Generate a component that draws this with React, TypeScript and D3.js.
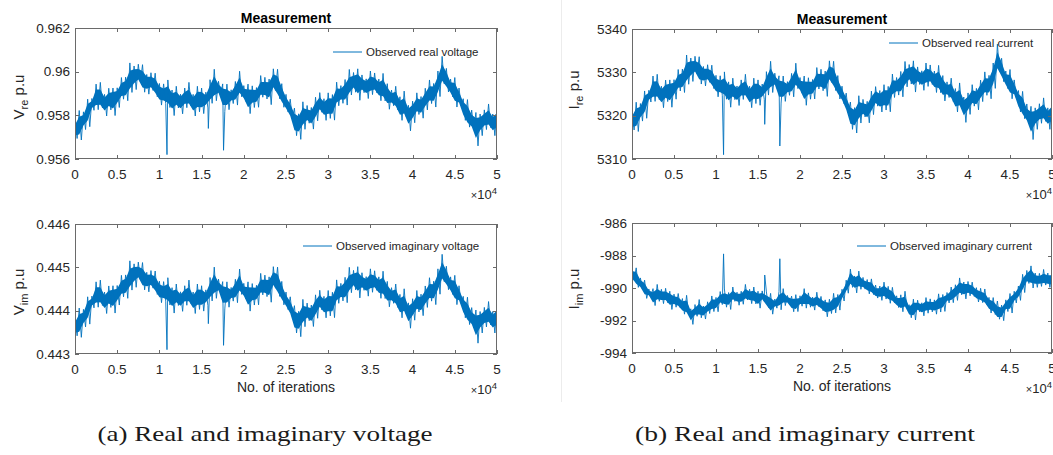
import React from "react";
import * as d3 from "d3";

// ---------- shared axis data ----------
const X_MAX = 50000;
const SAMPLE_STEP = 500; // iterations between stored samples
const xTickValues = [0, 5000, 10000, 15000, 20000, 25000, 30000, 35000, 40000, 45000, 50000];
const xTickLabels = ["0", "0.5", "1", "1.5", "2", "2.5", "3", "3.5", "4", "4.5", "5"];

// ---------- (a) real voltage ----------
const vReal = [
  0.9573, 0.9575, 0.9578, 0.9582, 0.9585, 0.9588, 0.9587, 0.9586, 0.9587, 0.9588,
  0.9589, 0.9591, 0.9593, 0.9595, 0.9599, 0.9598, 0.9596, 0.9596, 0.9595, 0.9593,
  0.9591, 0.9589, 0.9589, 0.9588, 0.9587, 0.9587, 0.9588, 0.9587, 0.9586, 0.9587,
  0.9588, 0.9587, 0.959, 0.9593, 0.9592, 0.9589, 0.9588, 0.9589, 0.9591, 0.9593,
  0.959, 0.9588, 0.9589, 0.959, 0.9591, 0.9592, 0.9593, 0.9595, 0.9593, 0.959,
  0.9586, 0.9582, 0.9577, 0.9578, 0.9579, 0.958, 0.958, 0.9582, 0.9585, 0.9584,
  0.9584, 0.9585, 0.9588, 0.959, 0.9591, 0.9592, 0.9596, 0.9595, 0.9594, 0.9594,
  0.9594, 0.9594, 0.9593, 0.9592, 0.959, 0.9588, 0.9587, 0.9584, 0.9583, 0.9581,
  0.9582, 0.9584, 0.9585, 0.9587, 0.9589, 0.9591, 0.9594, 0.9598, 0.9597, 0.9593,
  0.9591, 0.9588, 0.9584, 0.958, 0.9577, 0.9575, 0.9577, 0.9578, 0.9578, 0.9577,
  0.9578,
];
const vRealUpper = [
  0.00045, 0.00072, 0.00036, 0.00054, 0.00027, 0.00063, 0.00081, 0.00036, 0.00054, 0.00045,
  0.00036, 0.00063, 0.00045, 0.0009, 0.00036, 0.00054, 0.00072, 0.00027, 0.00045, 0.00063,
  0.00036, 0.00054, 0.00072, 0.00036, 0.00063, 0.00027, 0.00045, 0.00081, 0.00036, 0.00063,
  0.00045, 0.00036, 0.00063, 0.00081, 0.00036, 0.00054, 0.00063, 0.00027, 0.00045, 0.00072,
  0.00036, 0.00063, 0.00045, 0.00027, 0.00072, 0.00054, 0.00036, 0.00063, 0.00081, 0.00045,
  0.00036, 0.00054, 0.00063, 0.00027, 0.00072, 0.00045, 0.00036, 0.00063, 0.00054, 0.00036,
  0.00063, 0.00045, 0.00072, 0.00036, 0.00054, 0.0009, 0.00036, 0.00063, 0.00045, 0.00027,
  0.00063, 0.00054, 0.00036, 0.00072, 0.00045, 0.00036, 0.00063, 0.00045, 0.00081, 0.00036,
  0.00045, 0.00063, 0.00036, 0.00054, 0.00072, 0.00036, 0.00063, 0.0009, 0.00045, 0.00036,
  0.00063, 0.00045, 0.00036, 0.00072, 0.00054, 0.00063, 0.00036, 0.00045, 0.00072, 0.00036,
  0.00054,
];
const vRealLower = [
  0.00036, 0.00063, 0.00045, 0.00072, 0.00027, 0.00054, 0.00036, 0.00063, 0.00045, 0.00081,
  0.00054, 0.00036, 0.00063, 0.00045, 0.00072, 0.00027, 0.00054, 0.00063, 0.00036, 0.00045,
  0.00063, 0.00036, 0.00054, 0.00081, 0.00036, 0.00063, 0.00045, 0.00027, 0.00063, 0.00054,
  0.00072, 0.00036, 0.00045, 0.00063, 0.00027, 0.00072, 0.00054, 0.00036, 0.00063, 0.00045,
  0.00036, 0.00072, 0.00054, 0.00063, 0.00027, 0.00045, 0.00081, 0.00036, 0.00054, 0.00063,
  0.00045, 0.00036, 0.00063, 0.0009, 0.00054, 0.00036, 0.00063, 0.00045, 0.00036, 0.00063,
  0.00054, 0.00072, 0.00036, 0.00045, 0.00063, 0.00027, 0.00054, 0.00081, 0.00036, 0.00063,
  0.00045, 0.00036, 0.00063, 0.00054, 0.00072, 0.00036, 0.00045, 0.00063, 0.00036, 0.00081,
  0.00054, 0.00036, 0.00063, 0.00045, 0.00036, 0.00072, 0.00054, 0.00036, 0.00063, 0.00045,
  0.00072, 0.00036, 0.00063, 0.00054, 0.00036, 0.0009, 0.00063, 0.00045, 0.00036, 0.00063,
  0.00054,
];
const vRealSpikes = [
  { at: 10900, value: 0.9562 },
  { at: 15800, value: 0.9574 },
  { at: 17600, value: 0.9564 },
];
const vRealTicks = [0.956, 0.958, 0.96, 0.962];
const vRealTickLabels = ["0.956", "0.958", "0.96", "0.962"];

// ---------- (a) imaginary voltage ----------
const vImag = [
  0.4436, 0.4437, 0.44385, 0.44405, 0.4442, 0.44435, 0.4443, 0.44425, 0.4443, 0.44435,
  0.4444, 0.4445, 0.4446, 0.4447, 0.4449, 0.44485, 0.44475, 0.44475, 0.4447, 0.4446,
  0.4445, 0.4444, 0.4444, 0.44435, 0.4443, 0.4443, 0.44435, 0.4443, 0.44425, 0.4443,
  0.44435, 0.4443, 0.44445, 0.4446, 0.44455, 0.4444, 0.44435, 0.4444, 0.4445, 0.4446,
  0.44445, 0.44435, 0.4444, 0.44445, 0.4445, 0.44455, 0.4446, 0.4447, 0.4446, 0.44445,
  0.44425, 0.44405, 0.4438, 0.44385, 0.4439, 0.44395, 0.44395, 0.44405, 0.4442, 0.44415,
  0.44415, 0.4442, 0.44435, 0.44445, 0.4445, 0.44455, 0.44475, 0.4447, 0.44465, 0.44465,
  0.44465, 0.44465, 0.4446, 0.44455, 0.44445, 0.44435, 0.4443, 0.44415, 0.4441, 0.444,
  0.44405, 0.44415, 0.4442, 0.4443, 0.4444, 0.4445, 0.44465, 0.44485, 0.4448, 0.4446,
  0.4445, 0.44435, 0.44415, 0.44395, 0.4438, 0.4437, 0.4438, 0.44385, 0.44385, 0.4438,
  0.44385,
];
const vImagUpper = [
  0.000225, 0.00036, 0.00018, 0.00027, 0.000135, 0.000315, 0.000405, 0.00018, 0.00027, 0.000225,
  0.00018, 0.000315, 0.000225, 0.00045, 0.00018, 0.00027, 0.00036, 0.000135, 0.000225, 0.000315,
  0.00018, 0.00027, 0.00036, 0.00018, 0.000315, 0.000135, 0.000225, 0.000405, 0.00018, 0.000315,
  0.000225, 0.00018, 0.000315, 0.000405, 0.00018, 0.00027, 0.000315, 0.000135, 0.000225, 0.00036,
  0.00018, 0.000315, 0.000225, 0.000135, 0.00036, 0.00027, 0.00018, 0.000315, 0.000405, 0.000225,
  0.00018, 0.00027, 0.000315, 0.000135, 0.00036, 0.000225, 0.00018, 0.000315, 0.00027, 0.00018,
  0.000315, 0.000225, 0.00036, 0.00018, 0.00027, 0.00045, 0.00018, 0.000315, 0.000225, 0.000135,
  0.000315, 0.00027, 0.00018, 0.00036, 0.000225, 0.00018, 0.000315, 0.000225, 0.000405, 0.00018,
  0.000225, 0.000315, 0.00018, 0.00027, 0.00036, 0.00018, 0.000315, 0.00045, 0.000225, 0.00018,
  0.000315, 0.000225, 0.00018, 0.00036, 0.00027, 0.000315, 0.00018, 0.000225, 0.00036, 0.00018,
  0.00027,
];
const vImagLower = [
  0.00018, 0.000315, 0.000225, 0.00036, 0.000135, 0.00027, 0.00018, 0.000315, 0.000225, 0.000405,
  0.00027, 0.00018, 0.000315, 0.000225, 0.00036, 0.000135, 0.00027, 0.000315, 0.00018, 0.000225,
  0.000315, 0.00018, 0.00027, 0.000405, 0.00018, 0.000315, 0.000225, 0.000135, 0.000315, 0.00027,
  0.00036, 0.00018, 0.000225, 0.000315, 0.000135, 0.00036, 0.00027, 0.00018, 0.000315, 0.000225,
  0.00018, 0.00036, 0.00027, 0.000315, 0.000135, 0.000225, 0.000405, 0.00018, 0.00027, 0.000315,
  0.000225, 0.00018, 0.000315, 0.00045, 0.00027, 0.00018, 0.000315, 0.000225, 0.00018, 0.000315,
  0.00027, 0.00036, 0.00018, 0.000225, 0.000315, 0.000135, 0.00027, 0.000405, 0.00018, 0.000315,
  0.000225, 0.00018, 0.000315, 0.00027, 0.00036, 0.00018, 0.000225, 0.000315, 0.00018, 0.000405,
  0.00027, 0.00018, 0.000315, 0.000225, 0.00018, 0.00036, 0.00027, 0.00018, 0.000315, 0.000225,
  0.00036, 0.00018, 0.000315, 0.00027, 0.00018, 0.00045, 0.000315, 0.000225, 0.00018, 0.000315,
  0.00027,
];
const vImagSpikes = [
  { at: 10900, value: 0.4431 },
  { at: 15800, value: 0.4437 },
  { at: 17600, value: 0.4432 },
];
const vImagTicks = [0.443, 0.444, 0.445, 0.446];
const vImagTickLabels = ["0.443", "0.444", "0.445", "0.446"];

// ---------- (b) real current ----------
const iReal = [
  5318.5, 5319.5, 5321, 5323, 5324.5, 5326, 5325.5, 5325, 5325.5, 5326,
  5326.5, 5327.5, 5328.5, 5329.5, 5331.5, 5331, 5330, 5330, 5329.5, 5328.5,
  5327.5, 5326.5, 5326.5, 5326, 5325.5, 5325.5, 5326, 5325.5, 5325, 5325.5,
  5326, 5325.5, 5327, 5328.5, 5328, 5326.5, 5326, 5326.5, 5327.5, 5328.5,
  5327, 5326, 5326.5, 5327, 5327.5, 5328, 5328.5, 5329.5, 5328.5, 5327,
  5325, 5322.5, 5320, 5320.5, 5321, 5321.5, 5321.5, 5322.5, 5324, 5324,
  5324, 5324.5, 5326, 5327, 5327.5, 5328, 5330, 5329.5, 5329, 5329,
  5329, 5329, 5328.5, 5328, 5327, 5326, 5325.5, 5324, 5323.5, 5322.5,
  5323, 5324, 5324.5, 5325.5, 5326.5, 5327.5, 5329, 5332, 5331, 5328.5,
  5327.5, 5326, 5324, 5322, 5320, 5319, 5320, 5320.5, 5320.5, 5320,
  5320.5,
];
const iRealUpper = [
  2.25, 3.6, 1.8, 2.7, 1.35, 3.15, 4.05, 1.8, 2.7, 2.25,
  1.8, 3.15, 2.25, 4.5, 1.8, 2.7, 3.6, 1.35, 2.25, 3.15,
  1.8, 2.7, 3.6, 1.8, 3.15, 1.35, 2.25, 4.05, 1.8, 3.15,
  2.25, 1.8, 3.15, 4.05, 1.8, 2.7, 3.15, 1.35, 2.25, 3.6,
  1.8, 3.15, 2.25, 1.35, 3.6, 2.7, 1.8, 3.15, 4.05, 2.25,
  1.8, 2.7, 3.15, 1.35, 3.6, 2.25, 1.8, 3.15, 2.7, 1.8,
  3.15, 2.25, 3.6, 1.8, 2.7, 4.5, 1.8, 3.15, 2.25, 1.35,
  3.15, 2.7, 1.8, 3.6, 2.25, 1.8, 3.15, 2.25, 4.05, 1.8,
  2.25, 3.15, 1.8, 2.7, 3.6, 1.8, 3.15, 4.5, 2.25, 1.8,
  3.15, 2.25, 1.8, 3.6, 2.7, 3.15, 1.8, 2.25, 3.6, 1.8,
  2.7,
];
const iRealLower = [
  1.8, 3.15, 2.25, 3.6, 1.35, 2.7, 1.8, 3.15, 2.25, 4.05,
  2.7, 1.8, 3.15, 2.25, 3.6, 1.35, 2.7, 3.15, 1.8, 2.25,
  3.15, 1.8, 2.7, 4.05, 1.8, 3.15, 2.25, 1.35, 3.15, 2.7,
  3.6, 1.8, 2.25, 3.15, 1.35, 3.6, 2.7, 1.8, 3.15, 2.25,
  1.8, 3.6, 2.7, 3.15, 1.35, 2.25, 4.05, 1.8, 2.7, 3.15,
  2.25, 1.8, 3.15, 4.5, 2.7, 1.8, 3.15, 2.25, 1.8, 3.15,
  2.7, 3.6, 1.8, 2.25, 3.15, 1.35, 2.7, 4.05, 1.8, 3.15,
  2.25, 1.8, 3.15, 2.7, 3.6, 1.8, 2.25, 3.15, 1.8, 4.05,
  2.7, 1.8, 3.15, 2.25, 1.8, 3.6, 2.7, 1.8, 3.15, 2.25,
  3.6, 1.8, 3.15, 2.7, 1.8, 4.5, 3.15, 2.25, 1.8, 3.15,
  2.7,
];
const iRealSpikes = [
  { at: 10900, value: 5311 },
  { at: 15800, value: 5318 },
  { at: 17600, value: 5313 },
];
const iRealTicks = [5310, 5320, 5330, 5340];
const iRealTickLabels = ["5310", "5320", "5330", "5340"];

// ---------- (b) imaginary current ----------
const iImag = [
  -989.2, -989.4, -989.7, -990.0, -990.3, -990.6, -990.5, -990.4, -990.5, -990.6,
  -990.7, -990.9, -991.05, -991.25, -991.6, -991.5, -991.35, -991.35, -991.25, -991.05,
  -990.9, -990.7, -990.7, -990.6, -990.5, -990.5, -990.6, -990.5, -990.4, -990.5,
  -990.6, -990.5, -990.8, -991.05, -991.0, -990.7, -990.6, -990.7, -990.9, -991.05,
  -990.8, -990.6, -990.7, -990.8, -990.9, -991.0, -991.05, -991.25, -991.05, -990.8,
  -990.4, -990.0, -989.4, -989.5, -989.6, -989.75, -989.8, -990.0, -990.3, -990.2,
  -990.2, -990.3, -990.6, -990.8, -990.9, -991.0, -991.35, -991.25, -991.15, -991.15,
  -991.15, -991.15, -991.05, -991.0, -990.8, -990.6, -990.5, -990.2, -990.1, -989.95,
  -990.0, -990.2, -990.3, -990.5, -990.7, -990.9, -991.15, -991.6, -991.45, -991.05,
  -990.9, -990.6, -990.2, -989.8, -989.4, -989.2, -989.4, -989.5, -989.5, -989.4,
  -989.5,
];
const iImagUpper = [
  0.4, 0.64, 0.32, 0.48, 0.24, 0.56, 0.72, 0.32, 0.48, 0.4,
  0.32, 0.56, 0.4, 0.8, 0.32, 0.48, 0.64, 0.24, 0.4, 0.56,
  0.32, 0.48, 0.64, 0.32, 0.56, 0.24, 0.4, 0.72, 0.32, 0.56,
  0.4, 0.32, 0.56, 0.72, 0.32, 0.48, 0.56, 0.24, 0.4, 0.64,
  0.32, 0.56, 0.4, 0.24, 0.64, 0.48, 0.32, 0.56, 0.72, 0.4,
  0.32, 0.48, 0.56, 0.24, 0.64, 0.4, 0.32, 0.56, 0.48, 0.32,
  0.56, 0.4, 0.64, 0.32, 0.48, 0.8, 0.32, 0.56, 0.4, 0.24,
  0.56, 0.48, 0.32, 0.64, 0.4, 0.32, 0.56, 0.4, 0.72, 0.32,
  0.4, 0.56, 0.32, 0.48, 0.64, 0.32, 0.56, 0.8, 0.4, 0.32,
  0.56, 0.4, 0.32, 0.64, 0.48, 0.56, 0.32, 0.4, 0.64, 0.32,
  0.48,
];
const iImagLower = [
  0.32, 0.56, 0.4, 0.64, 0.24, 0.48, 0.32, 0.56, 0.4, 0.72,
  0.48, 0.32, 0.56, 0.4, 0.64, 0.24, 0.48, 0.56, 0.32, 0.4,
  0.56, 0.32, 0.48, 0.72, 0.32, 0.56, 0.4, 0.24, 0.56, 0.48,
  0.64, 0.32, 0.4, 0.56, 0.24, 0.64, 0.48, 0.32, 0.56, 0.4,
  0.32, 0.64, 0.48, 0.56, 0.24, 0.4, 0.72, 0.32, 0.48, 0.56,
  0.4, 0.32, 0.56, 0.8, 0.48, 0.32, 0.56, 0.4, 0.32, 0.56,
  0.48, 0.64, 0.32, 0.4, 0.56, 0.24, 0.48, 0.72, 0.32, 0.56,
  0.4, 0.32, 0.56, 0.48, 0.64, 0.32, 0.4, 0.56, 0.32, 0.72,
  0.48, 0.32, 0.56, 0.4, 0.32, 0.64, 0.48, 0.32, 0.56, 0.4,
  0.64, 0.32, 0.56, 0.48, 0.32, 0.8, 0.56, 0.4, 0.32, 0.56,
  0.48,
];
const iImagSpikes = [
  { at: 10900, value: -987.9 },
  { at: 15800, value: -989.2 },
  { at: 17600, value: -988.2 },
];
const iImagTicks = [-994, -992, -990, -988, -986];
const iImagTickLabels = ["-994", "-992", "-990", "-988", "-986"];

// ---------- styling / layout ----------
const LINE = "#0072BD";
const AXIS = "#6a6a6a";
const TEXT = "#262626";
const SANS = "'Liberation Sans', Arial, Helvetica, sans-serif";
const SERIF = "'Liberation Serif', 'DejaVu Serif', serif";

type Spike = { at: number; value: number };
type PanelProps = {
  id: string;
  left: number; right: number; top: number; bottom: number;
  values: number[]; upper: number[]; lower: number[]; spikes: Spike[];
  yTicks: number[]; yTickLabels: string[];
  title?: boolean; legend: string; legendX: number; legendY: number;
  yMain: string; ySub: string; yLabelX: number; yLabelY: number;
  xLabel?: boolean;
};

function Panel(p: PanelProps) {
  const x = d3.scaleLinear().domain([0, X_MAX]).range([p.left, p.right]);
  const yDom = d3.extent(p.yTicks) as [number, number];
  const y = d3.scaleLinear().domain(yDom).range([p.bottom, p.top]);

  // noisy band: zig-zag through the upper / lower envelope
  const pts: { it: number; v: number }[] = [];
  p.values.forEach((c, i) => {
    pts.push({ it: i * SAMPLE_STEP, v: c + p.upper[i] });
    pts.push({ it: i * SAMPLE_STEP + SAMPLE_STEP / 2, v: c - p.lower[i] });
  });
  p.spikes.forEach((s) => pts.push({ it: s.at, v: s.value }));
  pts.sort((a, b) => a.it - b.it);

  const line = d3
    .line<{ it: number; v: number }>()
    .x((d) => x(d.it))
    .y((d) => y(d.v));

  // dense core of the band
  const core = d3
    .area<number>()
    .x((_, i) => x(i * SAMPLE_STEP))
    .y0((c, i) => y(c - p.lower[i] * 0.6))
    .y1((c, i) => y(c + p.upper[i] * 0.6));

  const tickLen = 4;
  const clipId = `clip-${p.id}`;
  const cx = (p.left + p.right) / 2;

  return (
    <g>
      <defs>
        <clipPath id={clipId}>
          <rect x={p.left} y={p.top} width={p.right - p.left} height={p.bottom - p.top} />
        </clipPath>
      </defs>
      <g clipPath={`url(#${clipId})`}>
        <path d={core(p.values) || ""} fill={LINE} stroke="none" />
        <path d={line(pts) || ""} fill="none" stroke={LINE} strokeWidth={0.9} />
      </g>
      <rect
        x={p.left + 0.5}
        y={p.top + 0.5}
        width={p.right - p.left - 1}
        height={p.bottom - p.top - 1}
        fill="none"
        stroke={AXIS}
        strokeWidth={1}
      />
      {xTickValues.map((t, i) => {
        const xx = Math.round(x(t)) + 0.5;
        return (
          <g key={`xt${i}`}>
            <line x1={xx} x2={xx} y1={p.bottom} y2={p.bottom - tickLen} stroke={AXIS} />
            <line x1={xx} x2={xx} y1={p.top} y2={p.top + tickLen} stroke={AXIS} />
            <text x={x(t)} y={p.bottom + 20} textAnchor="middle" fontFamily={SANS} fontSize={13.5} fill={TEXT}>
              {xTickLabels[i]}
            </text>
          </g>
        );
      })}
      {p.yTicks.map((t, i) => {
        const yy = Math.round(y(t)) + 0.5;
        return (
          <g key={`yt${i}`}>
            <line x1={p.left} x2={p.left + tickLen} y1={yy} y2={yy} stroke={AXIS} />
            <line x1={p.right} x2={p.right - tickLen} y1={yy} y2={yy} stroke={AXIS} />
            <text x={p.left - 5} y={y(t)} dy="0.35em" textAnchor="end" fontFamily={SANS} fontSize={13.5} fill={TEXT}>
              {p.yTickLabels[i]}
            </text>
          </g>
        );
      })}
      <text x={p.right} y={p.bottom + 40} textAnchor="end" fontFamily={SANS} fill={TEXT}>
        <tspan fontSize={11}>×</tspan>
        <tspan fontSize={13}>10</tspan>
        <tspan fontSize={9.5} dy={-5}>4</tspan>
      </text>
      {p.title && (
        <text x={cx} y={p.top - 5} textAnchor="middle" fontFamily={SANS} fontSize={14} fontWeight="bold" fill="#000">
          Measurement
        </text>
      )}
      {p.xLabel && (
        <text x={cx} y={p.bottom + 38} textAnchor="middle" fontFamily={SANS} fontSize={14} fill={TEXT}>
          No. of iterations
        </text>
      )}
      <text
        transform={`translate(${p.yLabelX},${p.yLabelY}) rotate(-90)`}
        textAnchor="middle"
        fontFamily={SANS}
        fill={TEXT}
        fontSize={15}
      >
        {p.yMain}
        <tspan fontSize={11} dy={4}>{p.ySub}</tspan>
        <tspan dy={-4}> p.u</tspan>
      </text>
      <line x1={p.legendX} x2={p.legendX + 29} y1={p.legendY} y2={p.legendY} stroke={LINE} strokeWidth={1} />
      <text x={p.legendX + 33} y={p.legendY} dy="0.35em" fontFamily={SANS} fontSize={11.5} fill={TEXT}>
        {p.legend}
      </text>
    </g>
  );
}

export default function App() {
  return (
    <svg
      width={1053}
      height={455}
      viewBox="0 0 1053 455"
      style={{ position: "absolute", left: 0, top: 0, background: "#fff" }}
    >
      <rect x={0} y={0} width={1053} height={455} fill="#fff" />
      <line x1={561.5} x2={561.5} y1={0} y2={402} stroke="#ececec" strokeWidth={1} />
      <Panel
        id="vre"
        left={75} right={497} top={28} bottom={159}
        values={vReal} upper={vRealUpper} lower={vRealLower} spikes={vRealSpikes}
        yTicks={vRealTicks} yTickLabels={vRealTickLabels}
        title legend="Observed real voltage" legendX={333} legendY={52}
        yMain="V" ySub="re" yLabelX={24} yLabelY={97}
      />
      <Panel
        id="vim"
        left={75} right={497} top={224} bottom={354}
        values={vImag} upper={vImagUpper} lower={vImagLower} spikes={vImagSpikes}
        yTicks={vImagTicks} yTickLabels={vImagTickLabels}
        legend="Observed imaginary voltage" legendX={303} legendY={246}
        yMain="V" ySub="im" yLabelX={24} yLabelY={292}
        xLabel
      />
      <Panel
        id="ire"
        left={632} right={1052} top={29} bottom={159}
        values={iReal} upper={iRealUpper} lower={iRealLower} spikes={iRealSpikes}
        yTicks={iRealTicks} yTickLabels={iRealTickLabels}
        title legend="Observed real current" legendX={889} legendY={43}
        yMain="I" ySub="re" yLabelX={579} yLabelY={90}
      />
      <Panel
        id="iim"
        left={632} right={1052} top={223} bottom={353}
        values={iImag} upper={iImagUpper} lower={iImagLower} spikes={iImagSpikes}
        yTicks={iImagTicks} yTickLabels={iImagTickLabels}
        legend="Observed imaginary current" legendX={857} legendY={246}
        yMain="I" ySub="im" yLabelX={579} yLabelY={289}
        xLabel
      />
      <text x={265} y={441} textAnchor="middle" fontFamily={SERIF} fontSize={22} fill="#1a1a1a" textLength={335} lengthAdjust="spacingAndGlyphs">
        (a) Real and imaginary voltage
      </text>
      <text x={805} y={441} textAnchor="middle" fontFamily={SERIF} fontSize={22} fill="#1a1a1a" textLength={340} lengthAdjust="spacingAndGlyphs">
        (b) Real and imaginary current
      </text>
    </svg>
  );
}
